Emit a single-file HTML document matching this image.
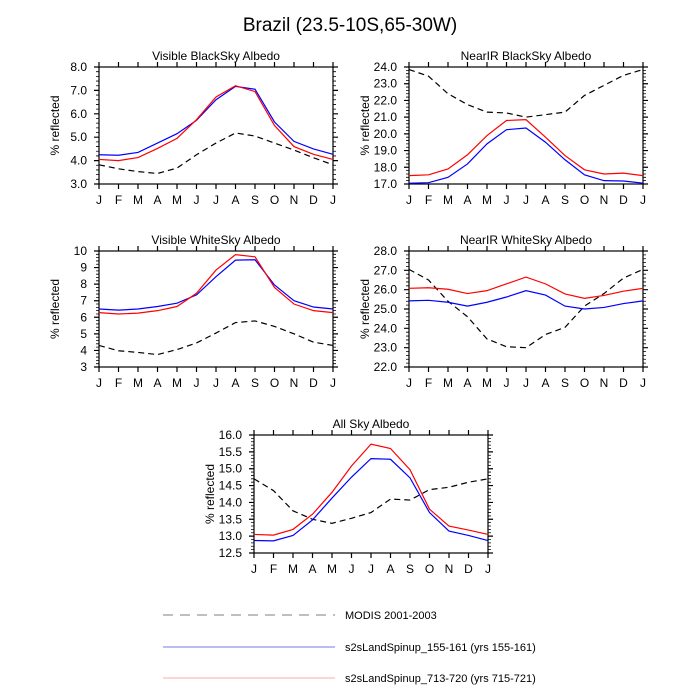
<!DOCTYPE html>
<html><head><meta charset="utf-8"><style>
html,body{margin:0;padding:0;background:#fff;}
svg{display:block;font-family:"Liberation Sans",sans-serif;}
</style></head><body>
<svg id="chart" width="700" height="700" viewBox="0 0 700 700">
<text x="350" y="31" text-anchor="middle" font-size="19">Brazil (23.5-10S,65-30W)</text>
<g>
<line x1="163" y1="615" x2="335" y2="615" stroke="#aaa" stroke-width="1.5" stroke-dasharray="10,7"/>
<text x="345" y="619" font-size="11">MODIS 2001-2003</text>
<line x1="163" y1="647" x2="335" y2="647" stroke="#7777ee" stroke-width="1"/>
<text x="345" y="651" font-size="11">s2sLandSpinup_155-161 (yrs 155-161)</text>
<line x1="163" y1="678" x2="335" y2="678" stroke="#ffaaaa" stroke-width="1"/>
<text x="345" y="682" font-size="11">s2sLandSpinup_713-720 (yrs 715-721)</text>
</g>
</svg>
<script>
const months = ["J","F","M","A","M","J","J","A","S","O","N","D","J"];
const visBlackModis = [3.82,3.65,3.53,3.45,3.68,4.25,4.75,5.18,5.05,4.75,4.45,4.12,3.82];
const visBlack155 = [4.25,4.23,4.35,4.75,5.15,5.72,6.6,7.17,7.05,5.65,4.82,4.5,4.27];
const visBlack713 = [4.05,4.0,4.13,4.52,4.95,5.75,6.72,7.2,6.95,5.5,4.6,4.27,4.05];
const nirBlackModis = [23.85,23.45,22.4,21.75,21.3,21.25,21.0,21.15,21.3,22.3,22.9,23.5,23.85];
const nirBlack155 = [17.05,17.08,17.4,18.2,19.4,20.25,20.35,19.5,18.45,17.55,17.2,17.18,17.05];
const nirBlack713 = [17.5,17.55,17.9,18.75,19.9,20.8,20.85,19.8,18.7,17.85,17.6,17.65,17.5];
const visWhiteModis = [4.3,3.98,3.88,3.75,4.05,4.45,5.05,5.68,5.78,5.45,5.0,4.5,4.3];
const visWhite155 = [6.5,6.43,6.5,6.65,6.85,7.35,8.45,9.45,9.47,7.95,7.0,6.62,6.5];
const visWhite713 = [6.28,6.2,6.25,6.4,6.65,7.45,8.85,9.78,9.65,7.8,6.8,6.4,6.28];
const nirWhiteModis = [27.05,26.5,25.4,24.6,23.45,23.05,23.0,23.68,24.05,25.15,25.8,26.6,27.05];
const nirWhite155 = [25.42,25.45,25.35,25.15,25.35,25.62,25.95,25.72,25.15,25.0,25.08,25.28,25.42];
const nirWhite713 = [26.07,26.1,26.02,25.8,25.95,26.3,26.65,26.3,25.78,25.55,25.7,25.92,26.07];
const allSkyModis = [14.7,14.35,13.75,13.5,13.38,13.53,13.7,14.1,14.07,14.38,14.45,14.6,14.7];
const allSky155 = [12.87,12.86,13.02,13.48,14.13,14.75,15.3,15.28,14.73,13.7,13.15,13.02,12.87];
const allSky713 = [13.05,13.03,13.2,13.65,14.3,15.08,15.73,15.6,14.97,13.8,13.3,13.18,13.05];
const visBlackTicks = ["3.0","4.0","5.0","6.0","7.0","8.0"];
const nirBlackTicks = ["17.0","18.0","19.0","20.0","21.0","22.0","23.0","24.0"];
const visWhiteTicks = ["3","4","5","6","7","8","9","10"];
const nirWhiteTicks = ["22.0","23.0","24.0","25.0","26.0","27.0","28.0"];
const allSkyTicks = ["12.5","13.0","13.5","14.0","14.5","15.0","15.5","16.0"];

const NS="http://www.w3.org/2000/svg";
const svg=document.getElementById('chart');
function mk(tag,attrs,parent){const e=document.createElementNS(NS,tag);for(const k in attrs)e.setAttribute(k,attrs[k]);parent.appendChild(e);return e;}

function panel(id,title,L,R,T,B,ticks,minorN,modis,s155,s713){
  const g=mk('g',{},svg);
  
  
  const tv=ticks.map(Number);
  const ymin=tv[0],ymax=tv[tv.length-1];
  const xs=i=>L+(R-L)*i/(months.length-1);
  const ys=v=>B-(B-T)*(v-ymin)/(ymax-ymin);
  const t=mk('text',{x:(L+R)/2,y:T-7,'text-anchor':'middle','font-size':'12'},g);t.textContent=title;
  
  
  const yl=mk('text',{x:0,y:0,'text-anchor':'middle','font-size':'12',transform:`translate(${L-40},${(T+B)/2}) rotate(-90)`},g);yl.textContent='% reflected';
  
  
  let d='';
  months.forEach((m,i)=>{const x=xs(i);d+=`M${x},${B}v5M${x},${T}v-5`;
    const lb=mk('text',{x:x,y:B+20,'text-anchor':'middle','font-size':'12'},g);lb.textContent=m;
    
    });
  let dm='';
  tv.forEach((v,i)=>{const y=ys(v);d+=`M${L},${y}h-5M${R},${y}h5`;
    const lb=mk('text',{x:L-12,y:y+4,'text-anchor':'end','font-size':'12'},g);lb.textContent=ticks[i];
    
    
    if(i<tv.length-1){for(let k=1;k<minorN;k++){const yy=ys(v+(tv[i+1]-v)*k/minorN);dm+=`M${L},${yy}h-3M${R},${yy}h3`;}}});
  mk('path',{d:d,stroke:'#000','stroke-width':1.2,fill:'none'},g);
  mk('path',{d:dm,stroke:'#000','stroke-width':0.8,fill:'none'},g);
  const fr=mk('rect',{x:L,y:T,width:R-L,height:B-T,fill:'none',stroke:'#000','stroke-width':1.2},g);
  
  
  const line=(arr,col,dash,nm)=>{const p=mk('polyline',{points:arr.map((v,i)=>xs(i)+','+ys(v)).join(' '),fill:'none',stroke:col,'stroke-width':1.2},g);
    if(dash)p.setAttribute('stroke-dasharray','6,4');
    
    };
  line(modis,'#000',true,id+'-modis-line');
  line(s155,'#0000ff',false,id+'-spinup-155-line');
  line(s713,'#ff0000',false,id+'-spinup-713-line');
}
panel('visible-blacksky','Visible BlackSky Albedo',99,333,67,184,visBlackTicks,5,visBlackModis,visBlack155,visBlack713);
panel('nearir-blacksky','NearIR BlackSky Albedo',409,643,67,184,nirBlackTicks,5,nirBlackModis,nirBlack155,nirBlack713);
panel('visible-whitesky','Visible WhiteSky Albedo',99,333,251,367,visWhiteTicks,5,visWhiteModis,visWhite155,visWhite713);
panel('nearir-whitesky','NearIR WhiteSky Albedo',409,643,251,367,nirWhiteTicks,5,nirWhiteModis,nirWhite155,nirWhite713);
panel('all-sky','All Sky Albedo',254,488,435,553,allSkyTicks,5,allSkyModis,allSky155,allSky713);
</script>
</body></html>
